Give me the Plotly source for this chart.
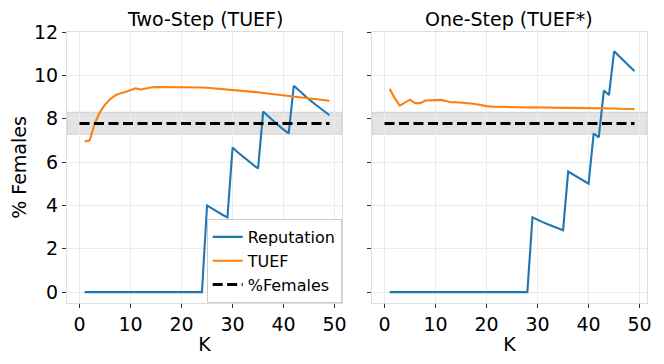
#%% imports

import plotly.graph_objects as go
from plotly.subplots import make_subplots

#%% data

k_values = list(range(1, 50))

# two-step panel
rep_two_step = [0.0] * 24 + [
    4.00, 3.85, 3.70, 3.57, 3.45,
    6.67, 6.45, 6.25, 6.06, 5.88, 5.71,
    8.33, 8.11, 7.89, 7.69, 7.50, 7.32,
    9.52, 9.30, 9.09, 8.89, 8.70, 8.51, 8.33, 8.16]
tuef_two_step = [
    6.95, 7.00, 7.80, 8.30, 8.65, 8.90, 9.08, 9.18, 9.23, 9.32,
    9.40, 9.35, 9.40, 9.44, 9.46, 9.46, 9.47, 9.47, 9.47, 9.46,
    9.45, 9.45, 9.45, 9.44, 9.43, 9.41, 9.39, 9.38, 9.37, 9.34,
    9.32, 9.30, 9.27, 9.25, 9.22, 9.19, 9.16, 9.13, 9.11, 9.08,
    9.06, 9.03, 9.00, 8.97, 8.94, 8.91, 8.88, 8.86, 8.83]

# one-step panel
rep_one_step = [0.0] * 28 + [
    3.45, 3.33, 3.23, 3.13, 3.03, 2.94, 2.86,
    5.56, 5.41, 5.26, 5.13, 5.00,
    7.32, 7.14,
    9.30, 9.09,
    11.11, 10.87, 10.64, 10.42, 10.20]
tuef_one_step = [
    9.38, 8.95, 8.60, 8.75, 8.88, 8.72, 8.72, 8.84, 8.86, 8.88,
    8.87, 8.82, 8.76, 8.76, 8.75, 8.72, 8.70, 8.67, 8.62, 8.58,
    8.56, 8.55, 8.56, 8.55, 8.54, 8.53, 8.53, 8.52, 8.53, 8.52,
    8.52, 8.51, 8.51, 8.50, 8.50, 8.50, 8.50, 8.49, 8.49, 8.48,
    8.48, 8.48, 8.47, 8.47, 8.47, 8.46, 8.46, 8.45, 8.45]

# share of females in the population and its band
females_x = [0, 49]
females_pct = 7.78
band_low, band_high = 7.28, 8.30

titles = ['Two-Step (TUEF)', 'One-Step (TUEF*)']

#%% figure

font = 'DejaVu Sans'
blue, orange = '#1f77b4', '#ff7f0e'
big = 19

fig = make_subplots(rows=1, cols=2, shared_yaxes=True,
                    horizontal_spacing=0.0517, subplot_titles=titles)

panels = [(rep_two_step, tuef_two_step), (rep_one_step, tuef_one_step)]
for i, (rep, tuef) in enumerate(panels):
  col = i + 1
  show = (i == 0)
  fig.add_trace(go.Scatter(x=k_values, y=rep, mode='lines', name='Reputation',
                           line=dict(color=blue, width=2.1), showlegend=show),
                row=1, col=col)
  fig.add_trace(go.Scatter(x=k_values, y=tuef, mode='lines', name='TUEF',
                           line=dict(color=orange, width=2.1), showlegend=show),
                row=1, col=col)
  fig.add_trace(go.Scatter(x=females_x, y=[females_pct] * len(females_x),
                           mode='lines', name='%Females',
                           line=dict(color='black', width=2.8, dash='10px,4.5px'),
                           showlegend=show),
                row=1, col=col)
  xref = 'x domain' if col == 1 else 'x2 domain'
  yref = 'y' if col == 1 else 'y2'
  fig.add_shape(type='rect', xref=xref, yref=yref, x0=0, x1=1,
                y0=band_low, y1=band_high, layer='below',
                fillcolor='rgba(128,128,128,0.22)',
                line=dict(color='rgba(128,128,128,0.25)', width=1))

axis_common = dict(showgrid=True, gridcolor='#ebebeb', gridwidth=1,
                   showline=True, linecolor='#dddddd', linewidth=1, mirror=True,
                   ticks='outside', ticklen=4, tickcolor='#333333',
                   zeroline=False, automargin=False,
                   tickfont=dict(family=font, size=big, color='black'))

fig.update_xaxes(range=[-2.45, 51.45], tickvals=[0, 10, 20, 30, 40, 50],
                 title=dict(text='K', font=dict(family=font, size=big, color='black'),
                            standoff=3),
                 **axis_common)
fig.update_yaxes(range=[-0.5, 12], tickvals=[0, 2, 4, 6, 8, 10, 12], **axis_common)
fig.update_yaxes(title=dict(text='% Females', font=dict(family=font, size=big, color='black'),
                            standoff=6), row=1, col=1)
fig.update_yaxes(showticklabels=False, row=1, col=2)

for ann in fig.layout.annotations:
  ann.font = dict(family=font, size=big, color='black')
  ann.yshift = 0

# the page body adds an 8px offset, so margins are shifted to compensate
fig.update_layout(width=664, height=364, autosize=False,
                  plot_bgcolor='white', paper_bgcolor='white',
                  margin=dict(l=59, r=25, t=24, b=69),
                  font=dict(family=font, size=16, color='black'),
                  legend=dict(x=0.4736, y=0.0, xanchor='right', yanchor='bottom',
                              bgcolor='rgba(255,255,255,0.85)',
                              bordercolor='#cccccc', borderwidth=1,
                              font=dict(family=font, size=16, color='black'),
                              tracegroupgap=0, itemwidth=30))

fig.write_html("out.html")
